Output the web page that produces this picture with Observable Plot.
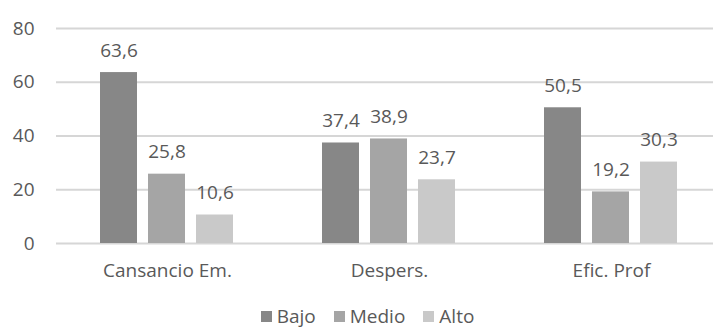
<!DOCTYPE html>
<html>
<head>
<meta charset="utf-8">
<script src="https://cdn.jsdelivr.net/npm/d3@7"></script>
<script src="https://cdn.jsdelivr.net/npm/@observablehq/plot@0.6"></script>
<style>
  html, body { margin: 0; padding: 0; background: #fff; }
  #chart { width: 713px; }
  .legend { display: flex; justify-content: center; align-items: center; height: 32px; padding-left: 40px;
    font-family: "Open Sans", sans-serif; font-size: 19px; color: #595959; }
  .legend .item { display: flex; align-items: center; margin-right: 18px; }
  .legend .sw { width: 11px; height: 11px; margin-right: 5px; display: inline-block; }
</style>
</head>
<body>
<div id="chart"></div>
<script>
const categories = ["Cansancio Em.", "Despers.", "Efic. Prof"];
const series = ["Bajo", "Medio", "Alto"];
const bajo = [63.6, 37.4, 50.5];
const medio = [25.8, 38.9, 19.2];
const alto = [10.6, 23.7, 30.3];
const yTicks = [0, 20, 40, 60, 80];
const colors = ["#878787", "#a5a5a5", "#c9c9c9"];

const valuesBySeries = [bajo, medio, alto];
const data = [];
categories.forEach((c, i) => {
  series.forEach((s, j) => {
    data.push({cat: c, serie: s, value: valuesBySeries[j][i]});
  });
});
const fmt = v => v.toFixed(1).replace(".", ",");

const plot = Plot.plot({
  width: 713,
  height: 300,
  marginLeft: 56,
  marginRight: 0,
  marginTop: 28,
  marginBottom: 57,
  style: {fontFamily: "'Open Sans', sans-serif", fontSize: "19px", color: "#595959", background: "#fff"},
  facet: {data: data, x: "cat"},
  fx: {domain: categories, range: [56, 722], padding: 0, label: null, tickSize: 0, tickPadding: 20},
  x: {domain: series, range: [99, 235], paddingInner: 0.224, paddingOuter: 0, axis: null},
  y: {domain: [0, 80], range: [243, 28], ticks: yTicks, tickSize: 0, tickPadding: 22, label: null},
  color: {domain: series, range: colors},
  marks: [
    Plot.ruleY(yTicks, {stroke: "#d6d6d6", strokeWidth: 2}),
    Plot.barY(data, {x: "serie", y: "value", fill: "serie"}),
    Plot.text(data, {x: "serie", y: "value", text: d => fmt(d.value), dy: -16, lineAnchor: "bottom", fill: "#595959", fontSize: 19})
  ]
});
document.getElementById("chart").appendChild(plot);

const legend = document.createElement("div");
legend.className = "legend";
series.forEach((s, j) => {
  const item = document.createElement("span");
  item.className = "item";
  const sw = document.createElement("span");
  sw.className = "sw";
  sw.style.background = colors[j];
  item.appendChild(sw);
  item.appendChild(document.createTextNode(s));
  legend.appendChild(item);
});
document.getElementById("chart").appendChild(legend);
</script>
</body>
</html>
